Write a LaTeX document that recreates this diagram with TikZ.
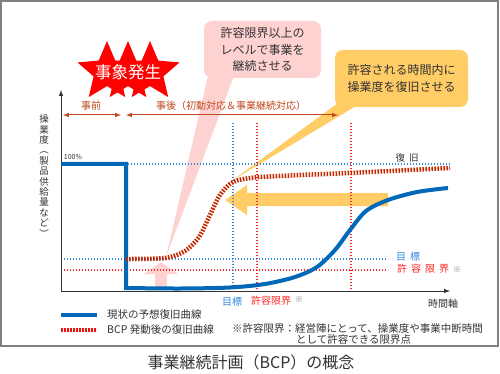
\documentclass[tikz,border=0pt]{standalone}
\usepackage{fontspec}
\setmainfont{Noto Sans CJK JP}
\usetikzlibrary{arrows,shapes.geometric}

\definecolor{curveblue}{RGB}{0,104,183}
\definecolor{bcpred}{RGB}{196,40,0}
\definecolor{gridblue}{RGB}{51,136,221}
\definecolor{gridred}{RGB}{255,40,40}
\definecolor{phasered}{RGB}{192,72,30}
\definecolor{starred}{RGB}{255,0,0}
\definecolor{calloutpink}{RGB}{255,210,210}
\definecolor{calloutorange}{RGB}{255,204,102}
\definecolor{textgray}{RGB}{51,51,51}
\definecolor{framegray}{RGB}{128,128,128}
\definecolor{legendred}{RGB}{238,17,17}

\newcommand{\wgap}{\hspace{4pt}}

\begin{document}
\begin{tikzpicture}[x=1pt,y=-1pt,>=latex,
   bluecurve/.style={line width=4pt,color=curveblue},
   bcpcurve/.style={line width=4.5pt,color=bcpred,dash pattern=on 1.6pt off 1.4pt},
   bluegrid/.style={line width=1.2pt,color=gridblue,dash pattern=on 1.2pt off 1.8pt},
   redgrid/.style={line width=1.2pt,color=gridred,dash pattern=on 1.2pt off 1.8pt},
   phase/.style={line width=1pt,color=phasered},
   callout/.style={rounded corners=8pt,align=center,inner sep=0pt,
                   font=\fontsize{12}{16.5}\selectfont,text=textgray},
   burst/.style={star,star points=5,star point ratio=2.2,minimum size=62pt,
                 inner sep=0pt,fill=starred},
   label/.style={font=\fontsize{10}{12}\selectfont,inner sep=0pt}]

  \useasboundingbox (0,0) rectangle (500,374);
  \fill[white] (0,0) rectangle (500,374);                     % Background
  \draw[framegray,line width=1.5pt] (1,1) rectangle (498,346); % Frame

  \coordinate (origin) at (61,291);                           % Axes origin
  \coordinate (ytop) at (61,90);
  \coordinate (xend) at (450,291);

  % Callout pointers and block arrows (behind the lines)
  \fill[calloutpink] (208,76) -- (234,76) -- (166,257) -- cycle;    % Pink pointer
  \fill[calloutorange] (342,100) -- (366,100) -- (233,180) -- cycle; % Orange pointer
  \fill[calloutpink] (161,262) -- (178,274) -- (167,274) -- (167,287)
        -- (155,287) -- (155,274) -- (144,274) -- cycle;            % Pink up arrow
  \fill[calloutorange] (225,200) -- (247,185) -- (247,193) -- (388,193)
        -- (388,206) -- (247,206) -- (247,215) -- cycle;            % Orange left arrow

  % Levels and time marks
  \draw[bluegrid] (128,164) -- (450,164);     % 100% level
  \draw[bluegrid] (61,259) -- (388,259);      % Target level
  \draw[redgrid] (61,270) -- (388,270);       % Limit level
  \draw[bluegrid] (233,123) -- (233,289);     % Target time
  \draw[redgrid] (257,123) -- (257,289);      % Limit time
  \draw[redgrid] (351,123) -- (351,289);      % Limit time

  % Axes
  \draw[->,textgray,line width=1pt] (origin) -- (ytop);   % Operation axis
  \draw[->,textgray,line width=1pt] (origin) -- (xend);   % Time axis

  % Recovery curves
  \draw[bluecurve] (61,164) -- (126,164) -- (126,288) -- plot[smooth] coordinates
        {(126,288) (180,288.5) (230,287.5) (265,284) (295,277) (317,267)
         (335,250) (350,230) (366,211) (388,200) (417,192) (448,188)};  % Current curve
  \draw[bcpcurve] plot[smooth] coordinates
        {(126,259) (165,258) (185,251) (199,237) (210,215) (220,195)
         (233,182) (255,177.5) (300,175) (350,173) (450,168)};         % BCP curve

  % Phase arrows
  \coordinate (prestart) at (63,115);
  \coordinate (preend) at (121,115);
  \coordinate (poststart) at (126,115);
  \coordinate (postend) at (338,115);
  \draw[<->,phase] (prestart) -- (preend);                % Before
  \draw[<->,phase] (poststart) -- (postend);              % After
  \node[label,text=phasered] (pre) at (91,106) {事前};
  \node[label,text=phasered] (post) at (231,106) {事後（初動対応＆事業継続対応）};

  % Event burst
  \node[burst] (burstl) at (107,72) {};
  \node[burst] (burstm) at (128,72) {};
  \node[burst] (burstr) at (150,72) {};
  \node[white,font=\fontsize{16.5}{18}\selectfont,inner sep=0pt] (event) at (128,72) {事象発生};

  % Callouts
  \node[callout,fill=calloutpink,minimum width=117pt,minimum height=57pt]
        (limitnote) at (262.5,49.5) {許容限界以上の\\レベルで事業を\\継続させる};
  \node[callout,fill=calloutorange,minimum width=133pt,minimum height=57pt]
        (timenote) at (401.5,78.5) {許容される時間内に\\操業度を復旧させる};

  % Axis and level labels
  \node[textgray,font=\fontsize{9.5}{10.4}\selectfont,align=center,inner sep=0pt]
        (ylabel) at (44,176) {操\\業\\度\\︵\\製\\品\\供\\給\\量\\な\\ど\\︶};
  \node[textgray,font=\fontsize{7}{8}\selectfont,inner sep=0pt] (full) at (73,157) {100\%};
  \node[label,textgray,font=\fontsize{9.5}{11}\selectfont] (restore) at (407,158) {復\wgap 旧};
  \node[label,text=gridblue] (targetr) at (408,257) {目\wgap 標};
  \node[label,text=gridred] (limitr) at (423,269) {許\wgap 容\wgap 限\wgap 界};
  \node[label,text=framegray,font=\fontsize{8}{9}\selectfont] (markr) at (457,270) {※};
  \node[label,text=gridblue] (targetb) at (232,302) {目標};
  \node[label,text=gridred] (limitb) at (271,301) {許容限界};
  \node[label,text=framegray,font=\fontsize{8}{9}\selectfont] (markb) at (299,300) {※};
  \node[label,textgray] (timeaxis) at (443,304) {時間軸};

  % Legend
  \coordinate (leg1a) at (61,315);
  \coordinate (leg1b) at (97,315);
  \coordinate (leg2a) at (61,330);
  \coordinate (leg2b) at (97,330);
  \draw[bluecurve] (leg1a) -- (leg1b);                                             % Current line
  \draw[line width=3.5pt,legendred,dash pattern=on 1.6pt off 1.4pt] (leg2a) -- (leg2b); % BCP line
  \node[label,textgray,font=\fontsize{10.5}{12}\selectfont,anchor=west] (leg1) at (107,315) {現状の予想復旧曲線};
  \node[label,textgray,font=\fontsize{10.5}{12}\selectfont,anchor=west] (leg2) at (107,330) {BCP 発動後の復旧曲線};
  \node[label,textgray,font=\fontsize{10.5}{12}\selectfont,anchor=west] (note1) at (232,329) {※許容限界：経営陣にとって、操業度や事業中断時間};
  \node[label,textgray,font=\fontsize{10.5}{12}\selectfont,anchor=west] (note2) at (296,340) {として許容できる限界点};

  % Caption
  \node[label,textgray,font=\fontsize{16}{18}\selectfont] (caption) at (251,362) {事業継続計画（BCP）の概念};
\end{tikzpicture}
\end{document}
